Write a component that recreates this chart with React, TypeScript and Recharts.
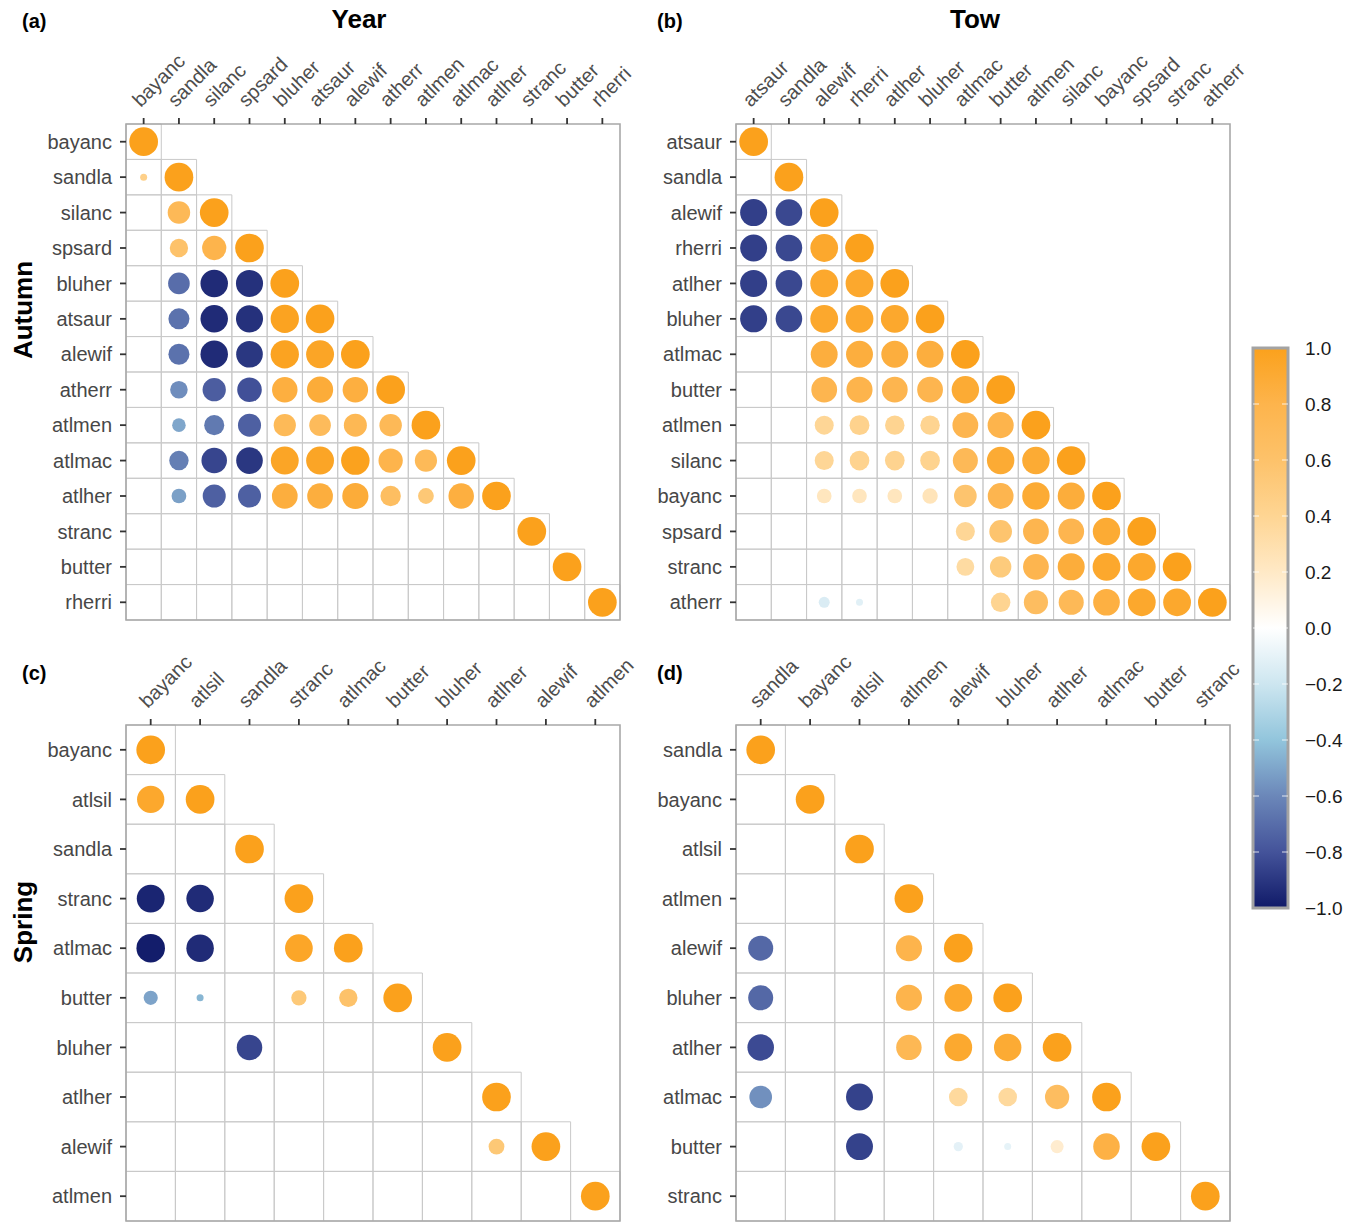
import { Bar, BarChart, ReferenceArea, ReferenceLine, Scatter, ScatterChart, XAxis, YAxis } from "recharts";

// correlation matrices, lower triangle by row (null = not shown)
const yearLabels = ["bayanc", "sandla", "silanc", "spsard", "bluher", "atsaur", "alewif", "atherr", "atlmen", "atlmac", "atlher", "stranc", "butter", "rherri"];
const yearCorr: (number | null)[][] = [
  [1],
  [0.45, 1],
  [null, 0.73, 1],
  [null, 0.6, 0.8, 1],
  [null, -0.7, -0.94, -0.92, 1],
  [null, -0.68, -0.94, -0.92, 0.98, 1],
  [null, -0.68, -0.94, -0.9, 0.98, 0.96, 1],
  [null, -0.58, -0.76, -0.81, 0.85, 0.88, 0.85, 1],
  [null, -0.5, -0.65, -0.75, 0.72, 0.7, 0.75, 0.73, 1],
  [null, -0.63, -0.85, -0.9, 0.96, 0.96, 0.99, 0.8, 0.72, 1],
  [null, -0.52, -0.75, -0.75, 0.86, 0.86, 0.88, 0.66, 0.54, 0.85, 1],
  [null, null, null, null, null, null, null, null, null, null, null, 1],
  [null, null, null, null, null, null, null, null, null, null, null, null, 1],
  [null, null, null, null, null, null, null, null, null, null, null, null, null, 1],
];

const towLabels = ["atsaur", "sandla", "alewif", "rherri", "atlher", "bluher", "atlmac", "butter", "atlmen", "silanc", "bayanc", "spsard", "stranc", "atherr"];
const towCorr: (number | null)[][] = [
  [1],
  [null, 1],
  [-0.87, -0.84, 1],
  [-0.87, -0.84, 0.93, 1],
  [-0.87, -0.84, 0.93, 0.93, 1],
  [-0.87, -0.84, 0.93, 0.93, 0.93, 1],
  [null, null, 0.86, 0.86, 0.86, 0.86, 1],
  [null, null, 0.78, 0.8, 0.78, 0.78, 0.9, 1],
  [null, null, 0.39, 0.43, 0.41, 0.41, 0.78, 0.8, 1],
  [null, null, 0.39, 0.42, 0.42, 0.42, 0.73, 0.9, 0.9, 1],
  [null, null, 0.23, 0.23, 0.23, 0.25, 0.58, 0.78, 0.9, 0.87, 1],
  [null, null, null, null, null, null, 0.39, 0.58, 0.78, 0.78, 0.9, 1],
  [null, null, null, null, null, null, 0.34, 0.51, 0.78, 0.87, 0.93, 0.93, 1],
  [null, null, -0.15, -0.12, null, null, null, 0.41, 0.67, 0.73, 0.84, 0.93, 0.93, 1],
];

const springLabels = ["bayanc", "atlsil", "sandla", "stranc", "atlmac", "butter", "bluher", "atlher", "alewif", "atlmen"];
const springCorr: (number | null)[][] = [
  [1],
  [0.93, 1],
  [null, null, 1],
  [-0.96, -0.94, null, 1],
  [-0.99, -0.94, null, 0.95, 1],
  [-0.51, -0.45, null, 0.53, 0.6, 1],
  [null, null, -0.85, null, null, null, 1],
  [null, null, null, null, null, null, null, 1],
  [null, null, null, null, null, null, null, 0.54, 1],
  [null, null, null, null, null, null, null, null, null, 1],
];

const springTowLabels = ["sandla", "bayanc", "atlsil", "atlmen", "alewif", "bluher", "atlher", "atlmac", "butter", "stranc"];
const springTowCorr: (number | null)[][] = [
  [1],
  [null, 1],
  [null, null, 1],
  [null, null, null, 1],
  [-0.72, null, null, 0.8, 1],
  [-0.72, null, null, 0.8, 0.93, 1],
  [-0.83, null, null, 0.75, 0.92, 0.9, 1],
  [-0.57, null, -0.86, null, 0.36, 0.36, 0.67, 1],
  [null, null, -0.86, null, -0.11, -0.1, 0.17, 0.83, 1],
  [null, null, null, null, null, null, null, null, null, 1],
];

const legendTicks = [1, 0.8, 0.6, 0.4, 0.2, 0, -0.2, -0.4, -0.6, -0.8, -1];

const FONT = "'Liberation Sans', Arial, sans-serif";

const colourStops: [number, string][] = [
  [-1, "#101a68"],
  [-0.8, "#44539a"],
  [-0.6, "#6b87b9"],
  [-0.4, "#92c5dc"],
  [-0.2, "#cde6f0"],
  [0, "#ffffff"],
  [0.2, "#ffe9c6"],
  [0.4, "#fed593"],
  [0.6, "#fdc26a"],
  [0.8, "#fdb44c"],
  [1, "#fba11c"],
];

function hexToRgb(h: string) {
  return [1, 3, 5].map((i) => parseInt(h.slice(i, i + 2), 16));
}

function corrColour(v: number) {
  for (let k = 0; k < colourStops.length - 1; k++) {
    const [a, ca] = colourStops[k];
    const [b, cb] = colourStops[k + 1];
    if (v >= a && v <= b) {
      const t = (v - a) / (b - a);
      const ra = hexToRgb(ca);
      const rb = hexToRgb(cb);
      const c = ra.map((x, i) => Math.round(x + (rb[i] - x) * t));
      return `rgb(${c[0]},${c[1]},${c[2]})`;
    }
  }
  return colourStops[colourStops.length - 1][1];
}

type Point = { x: number; y: number; v: number };

function toPoints(corr: (number | null)[][]): Point[] {
  const out: Point[] = [];
  corr.forEach((row, i) =>
    row.forEach((v, j) => {
      if (v !== null) out.push({ x: j, y: i, v });
    })
  );
  return out;
}

function XTick(props: any) {
  const { x, y, payload, labels } = props;
  const tx = x - 3;
  const ty = y - 8;
  return (
    <text x={tx} y={ty} transform={`rotate(-45 ${tx} ${ty})`} textAnchor="start" fill="#4d4d4d" fontSize={20} fontFamily={FONT}>
      {labels[payload.value]}
    </text>
  );
}

type PanelProps = {
  labels: string[];
  corr: (number | null)[][];
  left: number;
  top: number;
};

function CorrPanel({ labels, corr, left, top }: PanelProps) {
  const n = labels.length;
  const points = toPoints(corr);
  const lo = Math.min(...points.map((p) => Math.abs(p.v)));
  const ticks = labels.map((_, i) => i);
  const cells: { i: number; j: number }[] = [];
  for (let i = 0; i < n; i++) for (let j = 0; j <= i; j++) cells.push({ i, j });

  return (
    <div style={{ position: "absolute", left, top }}>
      <ScatterChart width={640} height={640} margin={{ top: 24, right: 20, bottom: 20, left: 26 }}>
        <XAxis
          type="number"
          dataKey="x"
          orientation="top"
          domain={[-0.5, n - 0.5]}
          ticks={ticks}
          interval={0}
          height={100}
          axisLine={false}
          tickLine={{ stroke: "#333", strokeWidth: 1.8 }}
          tick={(p: any) => <XTick {...p} labels={labels} />}
        />
        <YAxis
          type="number"
          dataKey="y"
          reversed
          domain={[-0.5, n - 0.5]}
          ticks={ticks}
          interval={0}
          width={100}
          axisLine={false}
          tickLine={{ stroke: "#333", strokeWidth: 1.8 }}
          tickMargin={8}
          tick={{ fill: "#474747", fontSize: 20, fontFamily: FONT }}
          tickFormatter={(v: number) => labels[v]}
        />
        {cells.map(({ i, j }) => (
          <ReferenceArea
            key={`${i}-${j}`}
            x1={j - 0.5}
            x2={j + 0.5}
            y1={i - 0.5}
            y2={i + 0.5}
            fill="none"
            stroke="#c9c9c9"
            strokeWidth={1}
          />
        ))}
        <ReferenceArea x1={-0.5} x2={n - 0.5} y1={-0.5} y2={n - 0.5} fill="none" stroke="#a8a8a8" strokeWidth={1.6} />
        <Scatter
          data={points}
          isAnimationActive={false}
          shape={(p: any) => {
            const a = Math.abs(p.payload.v);
            const d = 7 + 21.7 * Math.sqrt(Math.max(0, (a - lo) / (1 - lo)));
            return <circle cx={p.cx} cy={p.cy} r={d / 2} fill={corrColour(p.payload.v)} />;
          }}
        />
      </ScatterChart>
    </div>
  );
}

function ColourBar() {
  return (
    <div style={{ position: "absolute", left: 1243, top: 328 }}>
      <BarChart
        width={120}
        height={600}
        data={[{ name: "r", span: [-1, 1] }]}
        margin={{ top: 20, right: 0, bottom: 20, left: 10 }}
        barCategoryGap={0}
      >
        <defs>
          <linearGradient id="corrGradient" x1="0" y1="0" x2="0" y2="1">
            {colourStops
              .slice()
              .reverse()
              .map(([v, c]) => (
                <stop key={v} offset={`${((1 - v) / 2) * 100}%`} stopColor={c} />
              ))}
          </linearGradient>
        </defs>
        <XAxis dataKey="name" hide />
        <YAxis
          orientation="right"
          type="number"
          domain={[-1, 1]}
          ticks={legendTicks}
          interval={0}
          width={75}
          axisLine={false}
          tickLine={false}
          tickSize={0}
          tickMargin={17}
          tick={{ fill: "#1a1a1a", fontSize: 19, fontFamily: FONT }}
          tickFormatter={(v: number) => (v < 0 ? "\u2212" : "") + Math.abs(v).toFixed(1)}
        />
        <Bar dataKey="span" fill="url(#corrGradient)" stroke="#a3a3a3" strokeWidth={3} isAnimationActive={false} />
        {legendTicks.slice(1, -1).map((v) => (
          <ReferenceLine key={v} y={v} stroke="#ffffff" strokeOpacity={0.8} strokeDasharray="6 23 6" />
        ))}
      </BarChart>
    </div>
  );
}

const tag = { position: "absolute" as const, fontFamily: FONT, fontWeight: 700, fontSize: 20, lineHeight: "20px", color: "#000" };
const title = { position: "absolute" as const, fontFamily: FONT, fontWeight: 700, fontSize: 26, lineHeight: "26px", color: "#000", transform: "translateX(-50%)", whiteSpace: "nowrap" as const };
const side = { position: "absolute" as const, fontFamily: FONT, fontWeight: 700, fontSize: 26, lineHeight: "26px", color: "#000", transform: "translate(-50%, -50%) rotate(-90deg)", whiteSpace: "nowrap" as const };

export default function App() {
  return (
    <div style={{ position: "absolute", left: 0, top: 0, width: 1354, height: 1222, overflow: "hidden", background: "#fff" }}>
      <CorrPanel labels={yearLabels} corr={yearCorr} left={0} top={0} />
      <CorrPanel labels={towLabels} corr={towCorr} left={610} top={0} />
      <CorrPanel labels={springLabels} corr={springCorr} left={0} top={601} />
      <CorrPanel labels={springTowLabels} corr={springTowCorr} left={610} top={601} />
      <ColourBar />
      <div style={{ ...tag, left: 22, top: 11 }}>(a)</div>
      <div style={{ ...tag, left: 657, top: 11 }}>(b)</div>
      <div style={{ ...tag, left: 22, top: 663 }}>(c)</div>
      <div style={{ ...tag, left: 657, top: 663 }}>(d)</div>
      <div style={{ ...title, left: 359, top: 6 }}>Year</div>
      <div style={{ ...title, left: 975, top: 6 }}>Tow</div>
      <div style={{ ...side, left: 23, top: 310 }}>Autumn</div>
      <div style={{ ...side, left: 23, top: 922 }}>Spring</div>
    </div>
  );
}
